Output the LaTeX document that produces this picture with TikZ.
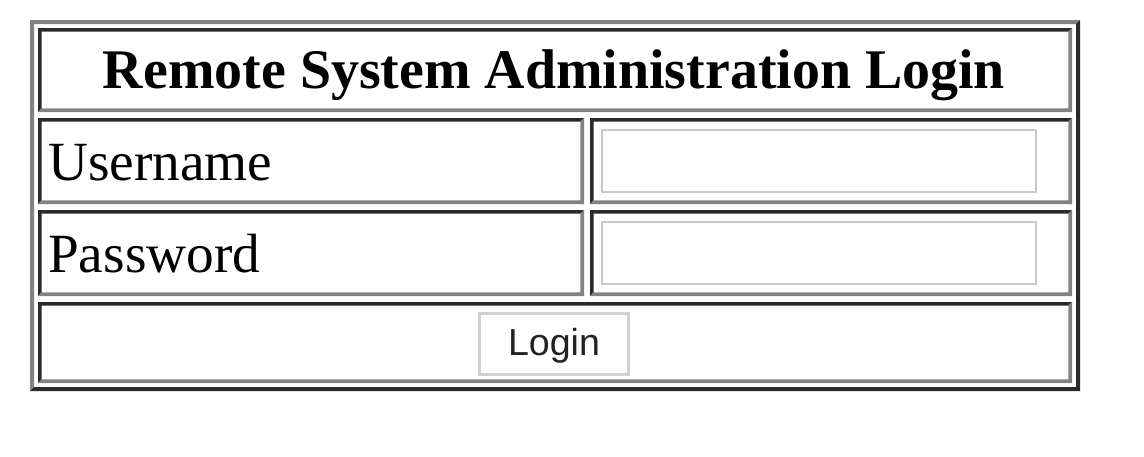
\documentclass[tikz,border=0pt]{standalone}
\usepackage{fontspec}
\setmainfont{Liberation Serif}
\newfontfamily\btnfont{Liberation Sans}
\definecolor{bdark}{HTML}{2A2A2A}
\definecolor{bgray}{HTML}{828282}
\definecolor{inbord}{HTML}{C8C8C8}
\definecolor{btnbord}{HTML}{D0D0D0}
\definecolor{btntext}{HTML}{222222}
\newcommand\bevelrect[7]{%
  \fill[#6] (#1,#2) -- (#3,#2) -- ({#3-#5},{#2+#5}) -- ({#1+#5},{#2+#5}) -- ({#1+#5},{#4-#5}) -- (#1,#4) -- cycle;
  \fill[#7] (#3,#2) -- (#3,#4) -- (#1,#4) -- ({#1+#5},{#4-#5}) -- ({#3-#5},{#4-#5}) -- ({#3-#5},{#2+#5}) -- cycle;
}
\tikzset{
  titletext/.style={anchor=base, inner sep=0pt, font=\bfseries\fontsize{55.9}{60}\selectfont},
  labeltext/.style={anchor=base west, inner sep=0pt, font=\fontsize{55.3}{60}\selectfont},
  btntextstyle/.style={anchor=base, inner sep=0pt, text=btntext, font=\btnfont\fontsize{37.6}{40}\selectfont},
  inputbox/.style={draw=inbord, line width=2pt, fill=white},
  buttonbox/.style={draw=btnbord, line width=3pt, fill=white}
}
\begin{document}
\begin{tikzpicture}[x=1pt,y=-1pt]
\useasboundingbox[fill=white] (0,0) rectangle (1144,456);
% outer table border (outset)
\bevelrect{30}{20}{1080}{391}{4}{bgray}{bdark}
% cells (inset)
\bevelrect{38}{28}{1072}{112}{3.6}{bdark}{bgray}
\bevelrect{38}{118}{584}{204}{3.6}{bdark}{bgray}
\bevelrect{590}{118}{1072}{204}{3.6}{bdark}{bgray}
\bevelrect{38}{210}{584}{296}{3.6}{bdark}{bgray}
\bevelrect{590}{210}{1072}{296}{3.6}{bdark}{bgray}
\bevelrect{38}{302}{1072}{383}{3.6}{bdark}{bgray}
% inputs
\draw[inputbox] (602,130) rectangle (1036,192);
\draw[inputbox] (602,222) rectangle (1036,284);
% button
\node[buttonbox, minimum width=149pt, minimum height=61pt, inner sep=0pt] (btn) at (554,344) {};
% texts
\node[titletext] (title) at (554,88) {Remote System Administration Login};
\node[labeltext] (user) at (48,180) {Username};
\node[labeltext] (pass) at (48,272) {Password};
\node[btntextstyle] (login) at (554,355) {Login};
\end{tikzpicture}
\end{document}
